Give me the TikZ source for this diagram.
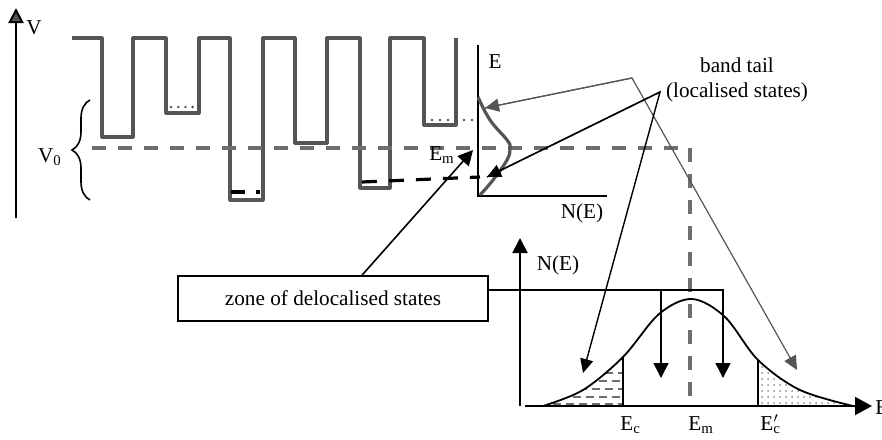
\documentclass[tikz,border=0pt]{standalone}
\usepackage{fontspec}
\setmainfont{Liberation Serif}
\usetikzlibrary{arrows.meta,decorations.pathreplacing,patterns}
\definecolor{wellgray}{RGB}{85,85,85}
\definecolor{dashgray}{RGB}{110,110,110}
\definecolor{dotgray}{RGB}{140,140,140}
\tikzset{
	tri/.style={-{Triangle[length=7.5pt,width=7.5pt]}},
	well/.style={draw=wellgray,line width=1.6pt,line join=round},
	level/.style={draw=dashgray,line width=1.8pt,dash pattern=on 7pt off 6pt},
	lbl/.style={inner sep=0pt,font=\fontsize{10.6}{12.5}\selectfont},
	dosline/.style={insert path={plot[smooth,tension=0.55] coordinates {(543,406) (583,390) (623,357) (659,314) (692,299) (725,317) (758,360) (800,390) (853,406)}}}
}
\begin{document}
\begin{tikzpicture}[x=0.5pt,y=-0.5pt]
	\useasboundingbox (0,0) rectangle (882,439);
	\coordinate (vbot) at (16,218);
	\coordinate (vtop) at (16,8);
	\coordinate (etop) at (478,45);
	\coordinate (eorig) at (478,196);
	\coordinate (eright) at (607,196);
	\coordinate (emtip) at (473,150);
	\coordinate (lvl0) at (92,148);
	\coordinate (lvlc) at (690,148);
	\coordinate (lvlb) at (690,404);
	\coordinate (tailA) at (632,78);
	\coordinate (tailB) at (660,92);
	\coordinate (tA1) at (485,108);
	\coordinate (tA2) at (797,370);
	\coordinate (tB1) at (487,177);
	\coordinate (tB2) at (583,373);
	\coordinate (nbot) at (520,406);
	\coordinate (ntop) at (520,238);
	\coordinate (eleft) at (525,406);
	\coordinate (eend) at (872,406);
	\coordinate (brk) at (723,290);
	\coordinate (brkm) at (661,290);
	\coordinate (d1) at (661,378);
	\coordinate (d2) at (723,378);

	\draw[line width=1pt,-{Triangle[length=7.5pt,width=7.5pt,fill=wellgray]}] (vbot) -- (vtop);
	\node[lbl] (vlab) at (34,28) {V};
	\draw[line width=0.8pt,decorate,decoration={brace,amplitude=9pt}] (90,200) -- (90,100);
	\node[lbl] (vzero) at (50,157) {V\textsubscript{0}};

	\draw[well] (72,38) -- (102,38) -- (102,137) -- (133,137) -- (133,38) -- (166,38) -- (166,113) -- (199,113) -- (199,38) -- (230,38) -- (230,200) -- (263,200) -- (263,38) -- (295,38) -- (295,143) -- (327,143) -- (327,38) -- (360,38) -- (360,188) -- (390,188) -- (390,38) -- (424,38) -- (424,125) -- (456,125) -- (456,38);
	\draw[wellgray,line width=1.4pt,line cap=round,dash pattern=on 0pt off 3.6pt] (171,107) -- (193,107);
	\draw[wellgray,line width=1.4pt,line cap=round,dash pattern=on 0pt off 4pt] (424,120) -- (478,120);
	\draw[line width=1.6pt,dash pattern=on 7pt off 5.5pt] (231,192) -- (260,192);
	\draw[line width=1.6pt,dash pattern=on 7.5pt off 6pt] (362,182) -- (480,177);
	\draw[level] (lvl0) -- (lvlc) -- (lvlb);

	\draw[line width=0.8pt] (etop) -- (eorig) -- (eright);
	\draw[well] plot[smooth,tension=0.7] coordinates {(478,97) (490,120) (507,140) (510,148) (507,160) (493,180) (480,195)};
	\node[lbl] (elab) at (495,62) {E};
	\node[lbl] (nelab) at (582,213) {N(E)};
	\node[lbl] (emlab) at (442,155) {E\textsubscript{m}};

	\node[lbl,align=center] (tail) at (737,80) {band tail\\(localised states)};
	\draw[wellgray,line width=0.6pt,-{Triangle[length=7pt,width=6.5pt]}] (tA1) -- (tailA) -- (tA2);
	\draw[wellgray,line width=0.6pt,-{Triangle[length=7pt,width=6.5pt]}] (tailA) -- (tA1);
	\draw[line width=0.7pt,-{Triangle[length=7pt,width=6.5pt]}] (tB1) -- (tailB) -- (tB2);
	\draw[line width=0.7pt,-{Triangle[length=7pt,width=6.5pt]}] (tailB) -- (tB1);

	\begin{scope}
		\clip (543,300) rectangle (623,406);
		\clip[dosline] -- cycle;
		\foreach \yy/\ph in {373/0,381/3,389/0,397/3,404/0}
			\draw[dashgray,line width=0.8pt,dash pattern=on 4pt off 2.5pt,dash phase=\ph pt] (540,\yy) -- (625,\yy);
	\end{scope}
	\begin{scope}
		\clip (758,300) rectangle (860,406);
		\fill[pattern=dots,pattern color=dotgray,dosline] -- cycle;
	\end{scope}
	\draw[line width=0.9pt,dosline];
	\draw[line width=0.9pt] (623,357) -- (623,406);
	\draw[line width=0.9pt] (758,360) -- (758,406);
	\draw[line width=1pt,tri] (nbot) -- (ntop);
	\draw[line width=1pt,-{Triangle[length=8.5pt,width=9pt]}] (eleft) -- (eend);
	\node[lbl] (nlab) at (558,265) {N(E)};
	\node[lbl,anchor=west] (eaxis) at (875,408) {E};
	\node[lbl,anchor=base west] (eclab) at (620,430) {E\textsubscript{c}};
	\node[lbl,anchor=base west] (emlab2) at (688,430) {E\textsubscript{m}};
	\node[lbl,anchor=base west] (ecplab) at (760,430) {E\rlap{$'$}\textsubscript{c}};

	\node[lbl,draw,line width=0.8pt,minimum width=155pt,minimum height=22.5pt] (zone) at (333,298.5) {zone of delocalised states};
	\draw[line width=0.8pt,tri] (zone.east |- brk) -- (brk) -- (d2);
	\draw[line width=0.8pt,tri] (brkm) -- (d1);
	\draw[line width=0.8pt,tri] ([xshift=14.5pt]zone.north) -- (emtip);
\end{tikzpicture}
\end{document}
